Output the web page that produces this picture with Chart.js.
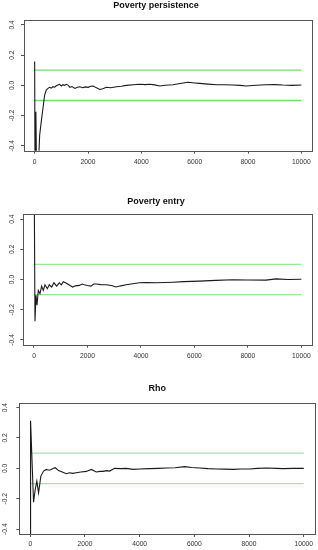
<!DOCTYPE html>
<html>
<head>
<meta charset="utf-8">
<script src="https://cdn.jsdelivr.net/npm/chart.js@4/dist/chart.umd.min.js"></script>
<style>
  html, body { margin: 0; padding: 0; background: #fff; }
  #wrap { position: relative; width: 318px; height: 550px; }
  #wrap canvas { position: absolute; left: 0; }
</style>
</head>
<body>
<div id="wrap">
  <canvas id="c1" style="top:0px"></canvas>
  <canvas id="c2" style="top:180px"></canvas>
  <canvas id="c3" style="top:370px"></canvas>
</div>
<script>
const xTicks = [0, 2000, 4000, 6000, 8000, 10000];
const yTicks = [-0.4, -0.2, 0, 0.2, 0.4];
const bandLimits = [-0.1, 0.1];
const bandStart = 0;
const bandEnd = 10000;

// Poverty persistence
const persistenceIter = [0, 15, 45, 80, 123, 187, 247, 310, 374, 434, 498, 560, 620, 685, 750, 810, 870, 935, 1000, 1060, 1120, 1185, 1260, 1322, 1400, 1509, 1600, 1696, 1800, 1900, 2007, 2100, 2195, 2300, 2444, 2550, 2693, 2850, 3067, 3250, 3441, 3700, 3940, 4150, 4314, 4500, 4688, 4900, 5187, 5450, 5748, 6000, 6185, 6500, 6808, 7100, 7431, 7700, 7930, 8300, 8678, 9000, 9302, 9650, 10000];
const persistenceVal = [0.157, -0.7, -0.175, -0.7, -0.6, -0.33, -0.24, -0.153, -0.064, -0.031, -0.02, -0.013, -0.018, -0.009, -0.012, -0.003, 0.002, 0.007, -0.004, 0.004, 0.0, 0.007, 0.0, -0.013, -0.008, -0.02, -0.012, -0.009, -0.016, -0.01, -0.013, -0.006, -0.004, -0.015, -0.027, -0.022, -0.013, -0.016, -0.009, -0.006, 0.0, 0.004, 0.007, 0.005, 0.007, 0.003, -0.004, 0.001, 0.004, 0.012, 0.02, 0.016, 0.013, 0.008, 0.004, 0.004, 0.002, 0.0, -0.004, 0.001, 0.004, 0.005, 0.002, 0.0, 0.002];

// Poverty entry
const entryIter = [0, 37, 75, 112, 161, 224, 286, 348, 411, 498, 573, 660, 748, 847, 947, 1022, 1097, 1180, 1260, 1350, 1447, 1550, 1696, 1800, 1883, 2000, 2133, 2230, 2320, 2500, 2694, 2900, 3068, 3250, 3442, 3700, 3940, 4200, 4564, 4900, 5187, 5600, 6185, 6800, 7432, 8000, 8679, 9053, 9500, 10000];
const entryVal = [0.9, -0.277, -0.105, -0.171, -0.072, -0.094, -0.044, -0.072, -0.035, -0.061, -0.035, -0.05, -0.022, -0.044, -0.022, -0.035, -0.015, -0.022, -0.03, -0.04, -0.05, -0.042, -0.039, -0.03, -0.035, -0.04, -0.044, -0.03, -0.03, -0.034, -0.035, -0.04, -0.05, -0.042, -0.035, -0.028, -0.022, -0.02, -0.022, -0.02, -0.018, -0.014, -0.011, -0.006, -0.002, -0.003, -0.004, 0.004, 0.0, 0.002];

// Rho
const rhoIter = [0, 12, 121, 183, 241, 304, 388, 487, 585, 645, 732, 853, 914, 1036, 1193, 1317, 1438, 1550, 1683, 1850, 2049, 2232, 2415, 2550, 2659, 2800, 2902, 3085, 3300, 3512, 3756, 4000, 4366, 4700, 4976, 5300, 5646, 5900, 6195, 6500, 6805, 7100, 7415, 7700, 8024, 8300, 8634, 9000, 9244, 9600, 10000];
const rhoVal = [-0.45, 0.313, -0.223, -0.139, -0.084, -0.161, -0.051, -0.018, -0.007, -0.011, -0.011, 0.0, 0.004, -0.015, -0.026, -0.035, -0.029, -0.033, -0.029, -0.024, -0.02, -0.007, -0.024, -0.02, -0.02, -0.015, -0.018, 0.0, -0.002, 0.0, -0.007, -0.004, -0.002, 0.0, 0.002, 0.004, 0.011, 0.006, 0.002, -0.002, -0.004, -0.005, -0.007, -0.004, -0.004, 0.0, 0.002, 0.0, -0.002, 0.0, 0.0];

const FONT = "'Liberation Sans', Arial, Helvetica, sans-serif";

// R style box round the plot region
const boxPlugin = {
  id: "box",
  afterDraw(chart) {
    const { ctx, chartArea: a } = chart;
    ctx.save();
    ctx.strokeStyle = "#555";
    ctx.lineWidth = 1;
    const l = Math.round(a.left) + 0.5;
    const t = Math.round(a.top) + 0.5;
    const r = Math.round(a.right) + 0.5;
    const b = Math.round(a.bottom) + 0.5;
    ctx.strokeRect(l, t, r - l, b - t);
    ctx.restore();
  },
};

function toPoints(xs, ys) {
  return xs.map((x, i) => ({ x: x, y: ys[i] }));
}

function drawPanel(id, cfg) {
  const canvas = document.getElementById(id);
  canvas.style.width = "318px";
  canvas.style.height = cfg.height + "px";
  canvas.width = 318;
  canvas.height = cfg.height;

  const datasets = [
    {
      data: toPoints(cfg.iter, cfg.values),
      borderColor: "#1a1a1a",
      borderWidth: 1.1,
      pointRadius: 0,
      tension: 0,
    },
  ];
  bandLimits.forEach((lim) => {
    datasets.push({
      data: toPoints([bandStart, bandEnd], [lim, lim]),
      borderColor: cfg.green,
      borderWidth: 1.3,
      pointRadius: 0,
    });
  });

  new Chart(canvas, {
    type: "line",
    data: { datasets: datasets },
    plugins: [boxPlugin],
    options: {
      responsive: false,
      animation: false,
      events: [],
      layout: {
        autoPadding: false,
        padding: { top: 0, left: 0, right: cfg.right, bottom: 0 },
      },
      plugins: {
        legend: { display: false },
        tooltip: { enabled: false },
        title: {
          display: true,
          text: cfg.title,
          color: "#111",
          font: { family: FONT, size: 9, weight: "bold", lineHeight: 1 },
          padding: { top: cfg.titleTop, bottom: cfg.titleBottom },
        },
      },
      scales: {
        x: {
          type: "linear",
          min: -400,
          max: 10400,
          afterBuildTicks: (scale) => {
            scale.ticks = xTicks.map((v) => ({ value: v }));
          },
          afterFit: (scale) => {
            scale.height = cfg.xHeight;
          },
          grid: { drawOnChartArea: false, drawTicks: true, tickLength: 3, color: "#555" },
          border: { display: false },
          ticks: {
            color: "#333",
            font: { family: FONT, size: 6.7 },
            padding: cfg.xPad,
            maxRotation: 0,
            autoSkip: false,
            callback: (v) => String(v),
          },
        },
        y: {
          type: "linear",
          min: -0.432,
          max: 0.432,
          afterBuildTicks: (scale) => {
            scale.ticks = yTicks.map((v) => ({ value: v }));
          },
          afterFit: (scale) => {
            scale.width = cfg.yWidth;
          },
          grid: { drawOnChartArea: false, drawTicks: true, tickLength: 3, color: "#555" },
          border: { display: false },
          ticks: {
            color: "#333",
            font: { family: FONT, size: 6.7 },
            minRotation: 90,
            maxRotation: 90,
            crossAlign: "center",
            padding: cfg.yPad,
            autoSkip: false,
            callback: (v) => v.toFixed(1),
          },
        },
      },
    },
  });
}

drawPanel("c1", {
  title: "Poverty persistence",
  iter: persistenceIter,
  values: persistenceVal,
  green: "#6ede6e",
  height: 172,
  titleTop: 1.5,
  titleBottom: 9.5,
  xHeight: 21.3,
  xPad: 4.5,
  yWidth: 24,
  yPad: 3.5,
  right: 6,
});

drawPanel("c2", {
  title: "Poverty entry",
  iter: entryIter,
  values: entryVal,
  green: "#98e898",
  height: 190,
  titleTop: 17.2,
  titleBottom: 8.1,
  xHeight: 25.3,
  xPad: 4.5,
  yWidth: 23.3,
  yPad: 2.5,
  right: 6,
});

drawPanel("c3", {
  title: "Rho",
  iter: rhoIter,
  values: rhoVal,
  green: "#aadfb4",
  height: 180,
  titleTop: 14.5,
  titleBottom: 9.2,
  xHeight: 16,
  xPad: 3,
  yWidth: 19.3,
  yPad: 5.8,
  right: 3.3,
});
</script>
</body>
</html>
